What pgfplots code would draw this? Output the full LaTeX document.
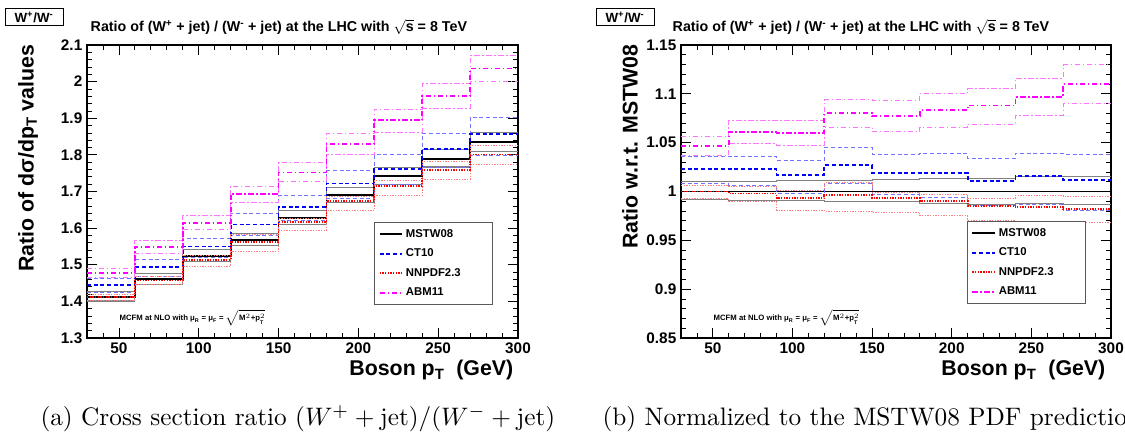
\documentclass[border=0pt]{standalone}
\usepackage{pgfplots}
\pgfplotsset{compat=1.18}
\usepackage{pgfplotstable}
\usepackage{fontspec}
\newfontfamily\helv{Liberation Sans}
\definecolor{rmag}{rgb}{1,0,1}
\definecolor{rblue}{rgb}{0,0,1}
\definecolor{rred}{rgb}{1,0,0}
\definecolor{mband}{rgb}{0.5,0.5,0.5}
\definecolor{cband}{rgb}{0.45,0.45,1}
\definecolor{nband}{rgb}{1,0.5,0.5}
\definecolor{aband}{rgb}{1,0.45,1}

% left panel: ratio values  (m = MSTW08, c = CT10, n = NNPDF2.3, a = ABM11; c/u/d = central/up/down)
\pgfplotstableread{
x   mc    mu    md    cc    cu    cd    nc    nu    nd    ac    au    ad
30  1.412 1.426 1.401 1.444 1.463 1.423 1.412 1.420 1.402 1.478 1.491 1.464
60  1.460 1.475 1.447 1.494 1.513 1.469 1.457 1.467 1.445 1.549 1.567 1.532
90  1.524 1.541 1.510 1.550 1.573 1.521 1.513 1.526 1.495 1.615 1.635 1.596
120 1.568 1.585 1.552 1.610 1.639 1.581 1.562 1.582 1.537 1.693 1.715 1.671
150 1.627 1.647 1.611 1.658 1.689 1.622 1.616 1.625 1.593 1.752 1.778 1.726
180 1.690 1.712 1.670 1.722 1.756 1.680 1.673 1.685 1.648 1.830 1.858 1.802
210 1.742 1.765 1.719 1.761 1.801 1.718 1.716 1.730 1.690 1.895 1.925 1.862
240 1.788 1.815 1.767 1.817 1.858 1.765 1.759 1.781 1.733 1.961 1.995 1.927
270 1.834 1.862 1.810 1.856 1.903 1.799 1.801 1.825 1.775 2.036 2.072 1.999
300 1.834 1.862 1.810 1.856 1.903 1.799 1.801 1.825 1.775 2.036 2.072 1.999
}\tabA

% right panel: normalised to MSTW08
\pgfplotstableread{
x   mc    mu    md    cc    cu    cd    nc    nu    nd    ac    au    ad
30  1.000 1.010 0.992 1.023 1.036 1.008 1.000 1.006 0.993 1.047 1.056 1.037
60  1.000 1.010 0.991 1.023 1.036 1.006 0.998 1.005 0.990 1.061 1.073 1.049
90  1.000 1.011 0.991 1.017 1.032 0.998 0.993 1.001 0.981 1.060 1.073 1.047
120 1.000 1.011 0.990 1.027 1.045 1.008 0.996 1.009 0.980 1.080 1.094 1.066
150 1.000 1.012 0.990 1.019 1.038 0.997 0.993 0.999 0.979 1.077 1.093 1.061
180 1.000 1.013 0.988 1.019 1.039 0.994 0.990 0.997 0.975 1.083 1.100 1.066
210 1.000 1.013 0.987 1.011 1.034 0.986 0.985 0.993 0.970 1.088 1.105 1.069
240 1.000 1.015 0.988 1.016 1.039 0.987 0.984 0.996 0.969 1.097 1.116 1.078
270 1.000 1.015 0.987 1.012 1.038 0.981 0.982 0.995 0.968 1.110 1.130 1.090
300 1.000 1.015 0.987 1.012 1.038 0.981 0.982 0.995 0.968 1.110 1.130 1.090
}\tabB

\pgfplotsset{
  rootaxis/.style={
    scale only axis, anchor=south west,
    xmin=30, xmax=300,
    xtick={50,100,150,200,250,300},
    minor xtick={30,40,...,300},
    tick align=inside,
    major tick length=7.5pt, minor tick length=3.75pt,
    axis line style={line width=0.9pt},
    tick style={black, line width=0.6pt},
    ticklabel style={font=\helv\bfseries\fontsize{11.5}{13}\selectfont},
    /pgf/number format/assume math mode=true,
    legend cell align=left,
    legend style={anchor=north west, draw=black!65, line width=0.9pt, fill=white,
      font=\helv\bfseries\fontsize{8.5}{10}\selectfont,
      inner xsep=3pt, inner ysep=3pt, row sep=3.2pt},
  }
}

\newcommand{\curves}[1]{%
  \addplot[forget plot, const plot mark left, mark=none, draw=mband, line width=0.85pt] table[x=x,y=mu]{#1};
  \addplot[forget plot, const plot mark left, mark=none, draw=mband, line width=0.85pt] table[x=x,y=md]{#1};
  \addplot[const plot mark left, mark=none, draw=black, line width=1.4pt] table[x=x,y=mc]{#1};
  \addlegendentry{\makebox[60pt][l]{MSTW08}}
  \addplot[forget plot, const plot mark left, mark=none, draw=cband, line width=0.75pt, dash pattern=on 3pt off 2pt] table[x=x,y=cu]{#1};
  \addplot[forget plot, const plot mark left, mark=none, draw=cband, line width=0.75pt, dash pattern=on 3pt off 2pt] table[x=x,y=cd]{#1};
  \addplot[const plot mark left, mark=none, draw=rblue, line width=1.4pt, dash pattern=on 3pt off 2pt] table[x=x,y=cc]{#1};
  \addlegendentry{\makebox[60pt][l]{CT10}}
  \addplot[forget plot, const plot mark left, mark=none, draw=nband, line width=0.75pt, dash pattern=on 1pt off 1pt] table[x=x,y=nu]{#1};
  \addplot[forget plot, const plot mark left, mark=none, draw=nband, line width=0.75pt, dash pattern=on 1pt off 1pt] table[x=x,y=nd]{#1};
  \addplot[const plot mark left, mark=none, draw=rred, line width=1.4pt, dash pattern=on 1pt off 1pt] table[x=x,y=nc]{#1};
  \addlegendentry{\makebox[60pt][l]{NNPDF2.3}}
  \addplot[forget plot, const plot mark left, mark=none, draw=aband, line width=0.75pt, dash pattern=on 4pt off 2pt on 1pt off 2pt] table[x=x,y=au]{#1};
  \addplot[forget plot, const plot mark left, mark=none, draw=aband, line width=0.75pt, dash pattern=on 4pt off 2pt on 1pt off 2pt] table[x=x,y=ad]{#1};
  \addplot[const plot mark left, mark=none, draw=rmag, line width=1.4pt, dash pattern=on 4pt off 2pt on 1pt off 2pt] table[x=x,y=ac]{#1};
  \addlegendentry{\makebox[60pt][l]{ABM11}}
}

\begin{document}
\begin{tikzpicture}
\path[use as bounding box] (0,0) rectangle (843.75pt,326.25pt);

\begin{axis}[rootaxis, at={(65.25pt,72.75pt)}, width=323.25pt, height=219.75pt,
  ymin=1.3, ymax=2.1, ytick={1.3,1.4,1.5,1.6,1.7,1.8,1.9,2,2.1}, minor y tick num=4,
  legend style={at={(0.666,0.396)}}]
\curves{\tabA}
\end{axis}

\begin{axis}[rootaxis, at={(510.75pt,72.75pt)}, width=322.5pt, height=219.75pt,
  ymin=0.85, ymax=1.15, ytick={0.85,0.9,0.95,1,1.05,1.1,1.15}, minor y tick num=4,
  legend style={at={(0.665,0.399)}}]
\curves{\tabB}
\end{axis}

% W+/W- boxes
\node[draw, line width=0.6pt, font=\helv\bfseries\fontsize{10}{12}\selectfont, minimum width=43.5pt, minimum height=12.75pt, inner sep=1pt] at (25.5pt,313.5pt) {W\textsuperscript{+}/W\textsuperscript{-}};
\node[draw, line width=0.6pt, font=\helv\bfseries\fontsize{10}{12}\selectfont, minimum width=43.5pt, minimum height=12.75pt, inner sep=1pt] at (468.75pt,313.5pt) {W\textsuperscript{+}/W\textsuperscript{-}};

% titles
\node[anchor=west, font=\helv\bfseries\fontsize{10.7}{12}\selectfont] at (64.5pt,306pt) {Ratio of (W\textsuperscript{+} + jet) / (W\textsuperscript{-} + jet) at the LHC with $\sqrt{\mbox{s}}$ = 8 TeV};
\node[anchor=west, font=\helv\bfseries\fontsize{10.7}{12}\selectfont] at (501pt,306pt) {Ratio of (W\textsuperscript{+} + jet) / (W\textsuperscript{-} + jet) at the LHC with $\sqrt{\mbox{s}}$ = 8 TeV};

% y labels
\node[rotate=90, anchor=east, font=\helv\bfseries\fontsize{16}{19}\selectfont] at (21pt,296.25pt) {Ratio of dσ/dp\textsubscript{T} values};
\node[rotate=90, anchor=east, font=\helv\bfseries\fontsize{16}{19}\selectfont] at (472.5pt,296.25pt) {Ratio w.r.t. MSTW08};

% x labels
\node[anchor=base east, font=\helv\bfseries\fontsize{16}{19}\selectfont] at (388.5pt,44.25pt) {Boson p\textsubscript{T}\ \ (GeV)};
\node[anchor=base east, font=\helv\bfseries\fontsize{16}{19}\selectfont] at (832.5pt,44.25pt) {Boson p\textsubscript{T}\ \ (GeV)};

% MCFM notes
\node[anchor=base west, font=\helv\bfseries\fontsize{5.8}{6}\selectfont] at (86.25pt,85.5pt) {MCFM at NLO with μ\textsubscript{R} = μ\textsubscript{F} = $\sqrt{\mbox{M}^{2}\mbox{+p}^{2}_{\mbox{\fontsize{4}{4}\selectfont T}}}$};
\node[anchor=base west, font=\helv\bfseries\fontsize{5.8}{6}\selectfont] at (531.75pt,85.5pt) {MCFM at NLO with μ\textsubscript{R} = μ\textsubscript{F} = $\sqrt{\mbox{M}^{2}\mbox{+p}^{2}_{\mbox{\fontsize{4}{4}\selectfont T}}}$};

% captions (10pt design size, scaled up like the reference page)
\node[anchor=base west, font=\fontsize{10}{12}\selectfont, inner sep=0pt, scale=1.896, transform shape] at (30pt,6.75pt) {(a) Cross section ratio $(W^{+}+\mathrm{jet})/(W^{-}+\mathrm{jet})$};
\node[anchor=base west, font=\fontsize{10}{12}\selectfont, inner sep=0pt, scale=1.896, transform shape] at (451.5pt,6.75pt) {(b) Normalized to the MSTW08 PDF prediction};
\end{tikzpicture}
\end{document}
